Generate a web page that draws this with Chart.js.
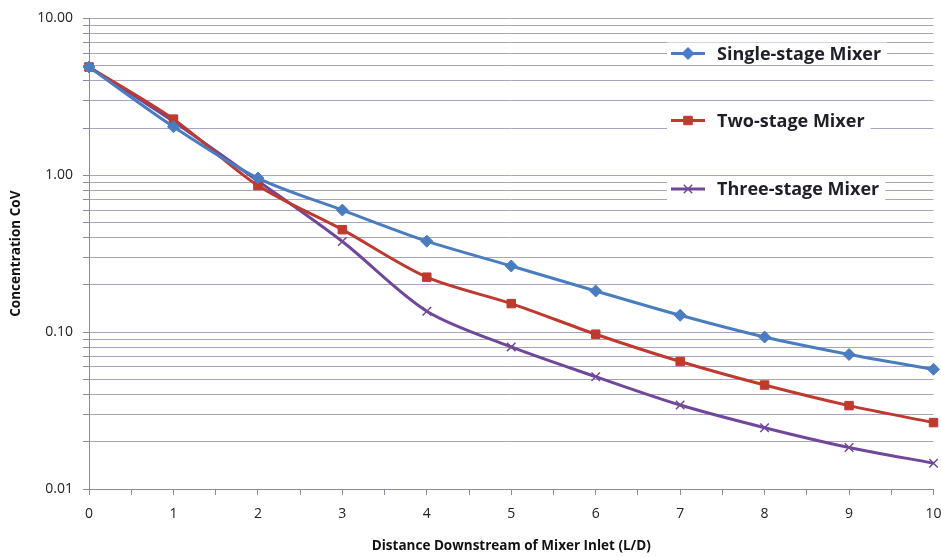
<!DOCTYPE html>
<html>
<head>
<meta charset="utf-8">
<script src="https://cdn.jsdelivr.net/npm/chart.js@4.4.0/dist/chart.umd.min.js"></script>
<style>
html,body{margin:0;padding:0;background:#fff;}
#wrap{width:941px;height:557px;position:relative;}
</style>
</head>
<body>
<div id="wrap"><canvas id="c" width="941" height="557"></canvas></div>
<script>
const xValues = [0, 1, 2, 3, 4, 5, 6, 7, 8, 9, 10];
const singleStage = [4.9, 2.04, 0.96, 0.60, 0.38, 0.264, 0.183, 0.128, 0.093, 0.072, 0.058];
const twoStage = [4.9, 2.28, 0.86, 0.45, 0.224, 0.152, 0.097, 0.065, 0.046, 0.034, 0.0265];
const threeStage = [4.9, 2.2, 0.92, 0.378, 0.136, 0.0805, 0.052, 0.0343, 0.0246, 0.0184, 0.0146];
const seriesNames = ['Single-stage Mixer', 'Two-stage Mixer', 'Three-stage Mixer'];
const yTickLabels = ['0.01', '0.10', '1.00', '10.00'];
const xTitle = 'Distance Downstream of Mixer Inlet (L/D)';
const yTitle = 'Concentration CoV';

const toPts = arr => xValues.map((x, i) => ({x: x, y: arr[i]}));

const legendPlugin = {
  id: 'customLegend',
  afterDraw(chart) {
    const ctx = chart.ctx;
    const rows = [53.5, 120.5, 189];
    ctx.save();
    ctx.font = 'bold 18px "Open Sans"';
    chart.data.datasets.forEach((ds, i) => {
      const y = rows[i];
      const tw = ctx.measureText(ds.label).width;
      ctx.fillStyle = '#fff';
      ctx.fillRect(667, y - 11, 717 - 667 + tw + 6, 22);
      ctx.strokeStyle = ds.borderColor;
      ctx.lineWidth = 3;
      ctx.beginPath();
      ctx.moveTo(671, y);
      ctx.lineTo(705, y);
      ctx.stroke();
      ctx.fillStyle = ds.pointBackgroundColor;
      ctx.strokeStyle = ds.pointBorderColor;
      ctx.lineWidth = ds.pointBorderWidth;
      Chart.helpers.drawPoint(ctx, {
        pointStyle: ds.pointStyle,
        radius: ds.pointRadius,
        borderWidth: ds.pointBorderWidth
      }, 688, y);
      ctx.fillStyle = '#1f1f2a';
      ctx.textBaseline = 'middle';
      ctx.textAlign = 'left';
      ctx.fillText(ds.label, 717, y + 1);
    });
    ctx.restore();
  }
};

const mk = (label, data, color, style, radius, pbw) => ({
  label: label,
  data: toPts(data),
  borderColor: color,
  backgroundColor: color,
  pointBackgroundColor: color,
  pointBorderColor: color,
  pointStyle: style,
  pointRadius: radius,
  pointHoverRadius: radius,
  pointBorderWidth: pbw,
  borderWidth: 3,
  tension: 0.3,
  clip: false
});

const datasets = [
  mk(seriesNames[0], singleStage, '#4a7cc0', 'rectRot', 6, 1),
  mk(seriesNames[1], twoStage, '#c0392f', 'rect', 6, 1),
  mk(seriesNames[2], threeStage, '#70489a', 'crossRot', 6, 1.5)
];

const gridColor = '#a7a4c6';

new Chart(document.getElementById('c'), {
  type: 'line',
  data: { datasets: datasets },
  plugins: [legendPlugin],
  options: {
    responsive: false,
    animation: false,
    devicePixelRatio: 1,
    layout: { padding: { left: 0, top: 17, right: 7, bottom: 0 } },
    plugins: {
      legend: { display: false },
      tooltip: { enabled: false }
    },
    scales: {
      x: {
        type: 'linear',
        min: 0,
        max: 10,
        afterFit: (s) => { s.paddingRight = 0; s.paddingLeft = 0; s.height = 557 - 489; },
        ticks: {
          stepSize: 0.5,
          autoSkip: false,
          maxRotation: 0,
          padding: 11,
          color: '#222',
          font: { family: '"Open Sans"', size: 14 },
          callback: (v) => Number.isInteger(v) ? String(v) : ''
        },
        grid: {
          drawOnChartArea: false,
          drawTicks: true,
          tickLength: 6,
          tickColor: '#8a8a9a',
          tickWidth: 1
        },
        border: { color: '#8a8a9a', width: 1 },
        title: {
          display: true,
          text: xTitle,
          color: '#111',
          font: { family: '"Open Sans"', size: 13.5, weight: 'bold' },
          padding: { top: 0, bottom: 3 }
        }
      },
      y: {
        type: 'logarithmic',
        min: 0.01,
        max: 10,
        afterFit: (s) => { s.width = 89; },
        afterBuildTicks: (s) => {
          const t = [];
          for (let e = -2; e <= 0; e++) {
            for (let m = 1; m <= 9; m++) t.push({ value: m * Math.pow(10, e) });
          }
          t.push({ value: 10 });
          s.ticks = t;
        },
        ticks: {
          autoSkip: false,
          padding: 10,
          color: '#222',
          font: { family: '"Open Sans"', size: 14 },
          callback: (v) => {
            const l = Math.log10(v);
            if (Math.abs(l - Math.round(l)) < 1e-9) {
              return yTickLabels[Math.round(l) + 2];
            }
            return '';
          }
        },
        grid: {
          color: gridColor,
          lineWidth: 1,
          tickLength: 6,
          tickColor: '#8a8a9a'
        },
        border: { color: '#8a8a9a', width: 1 },
        title: {
          display: true,
          text: yTitle,
          color: '#111',
          font: { family: '"Open Sans"', size: 13.5, weight: 'bold' },
          padding: { top: 8, bottom: 0 }
        }
      }
    }
  }
});
</script>
</body>
</html>
